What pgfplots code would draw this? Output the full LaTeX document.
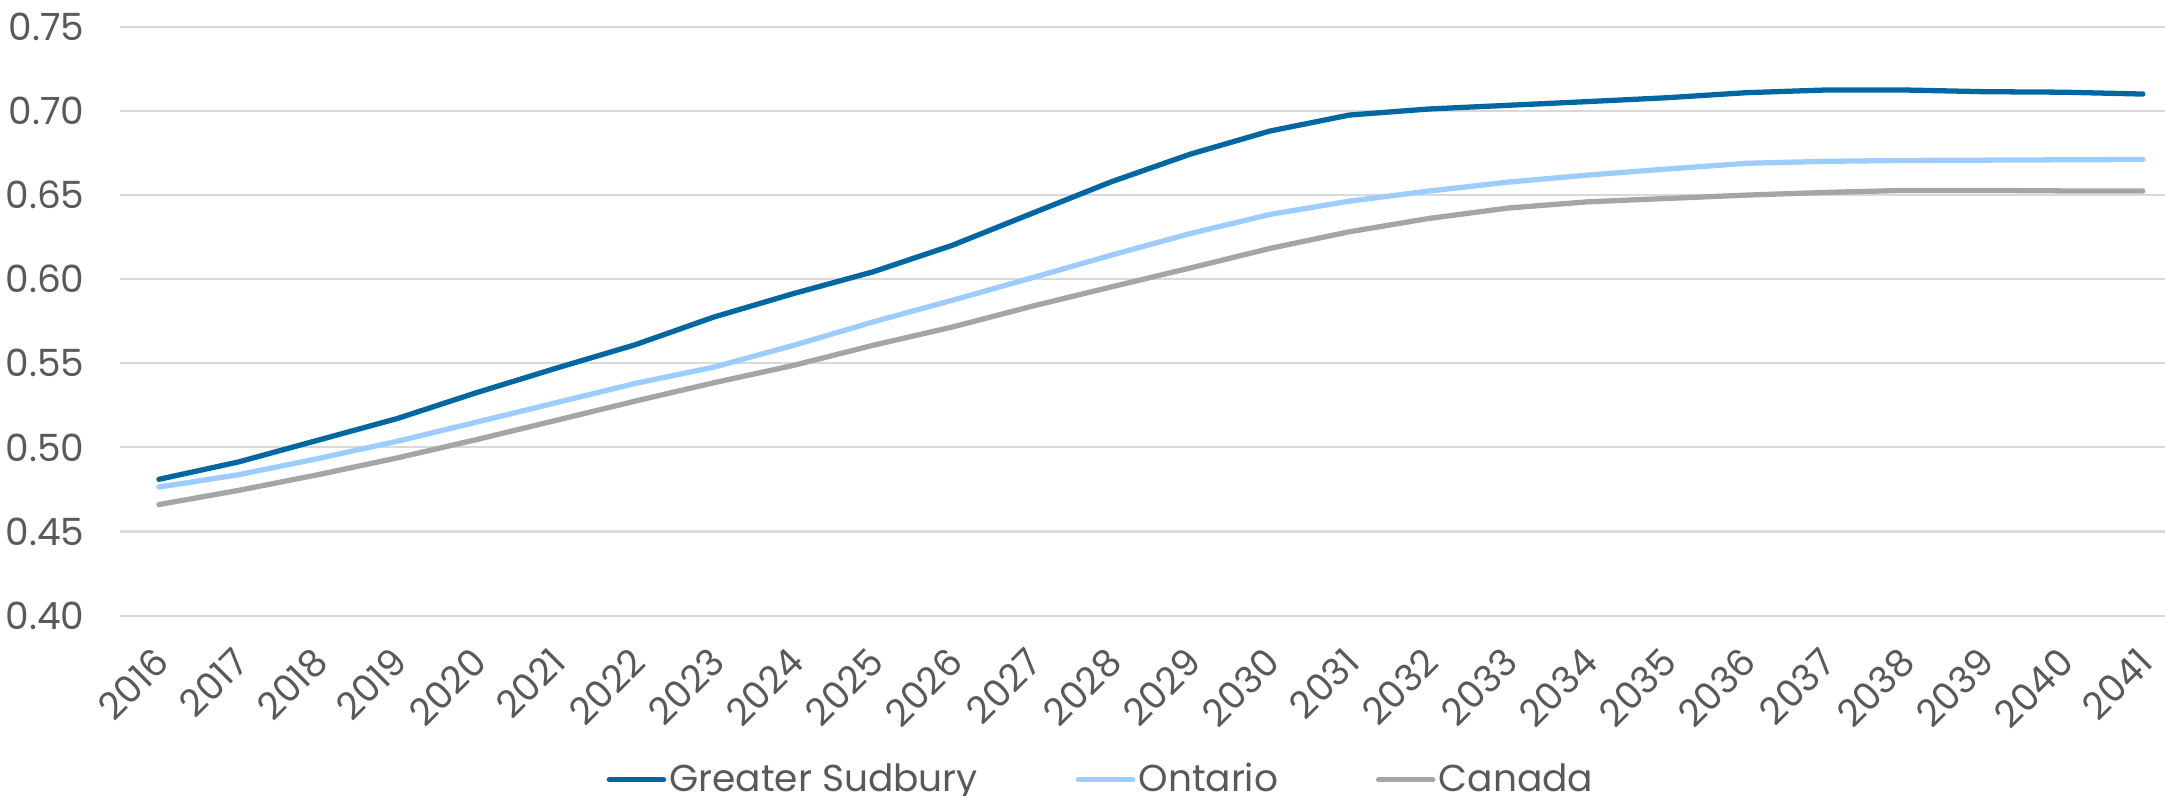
\documentclass[border=0pt]{standalone}
\usepackage{pgfplots}
\pgfplotsset{compat=1.18}
\usepackage{fontspec}
\setmainfont{Poppins}
\definecolor{sud}{RGB}{0,103,163}
\definecolor{ont}{RGB}{157,204,255}
\definecolor{can}{RGB}{165,165,165}
\definecolor{txt}{RGB}{89,89,89}
\definecolor{gridc}{RGB}{217,217,217}
\begin{document}
\begin{tikzpicture}
\useasboundingbox (-43.2pt,-64.9pt) rectangle (736.2pt,221.6pt);
\begin{axis}[
  at={(0,0)}, anchor=south west,
  scale only axis, width=736.2pt, height=211.9pt,
  xmin=2015.51, xmax=2041.28, ymin=0.4, ymax=0.75,
  xtick={2016,2017,2018,2019,2020,2021,2022,2023,2024,2025,2026,2027,2028,2029,2030,2031,2032,2033,2034,2035,2036,2037,2038,2039,2040,2041},
  ytick={0.40,0.45,0.50,0.55,0.60,0.65,0.70,0.75},
  axis line style={draw=none},
  major tick length=0pt,
  ymajorgrids,
  grid style={gridc, line width=0.75pt},
  /pgf/number format/assume math mode=true,
  tick label style={font=\fontsize{13.5}{16}\selectfont, text=txt},
  yticklabel style={anchor=east, inner sep=0pt, xshift=-12.6pt,
    /pgf/number format/fixed, /pgf/number format/fixed zerofill, /pgf/number format/precision=2},
  xticklabel style={xshift=-2.5pt, yshift=-10.5pt, rotate=45, anchor=north east, inner sep=0pt,
    /pgf/number format/1000 sep={}},
  legend style={at={(0.48,-0.279)}, anchor=center, draw=none, fill=none,
    font=\fontsize{13.5}{16}\selectfont, text=txt, inner sep=0pt,
    nodes={inner sep=1.2pt},
    /tikz/every even column/.append style={column sep=34pt}},
  legend columns=3,
  legend cell align=left,
  legend image code/.code={\draw[#1, line width=1.9pt] (0pt,0pt) -- (19.5pt,0pt);},
]
\addplot[sud, line width=1.9pt, line cap=round, line join=round] coordinates {
(2016,0.4810) (2017,0.4913) (2018,0.5042) (2019,0.5171) (2020,0.5325)
(2021,0.5470) (2022,0.5610) (2023,0.5776) (2024,0.5915) (2025,0.6044)
(2026,0.6202) (2027,0.6391) (2028,0.6579) (2029,0.6744) (2030,0.6881)
(2031,0.6976) (2032,0.7012) (2033,0.7034) (2034,0.7056) (2035,0.7079)
(2036,0.7109) (2037,0.7125) (2038,0.7125) (2039,0.7115) (2040,0.7112)
(2041,0.7101)};
\addlegendentry{Greater Sudbury}
\addplot[ont, line width=1.9pt, line cap=round, line join=round] coordinates {
(2016,0.4764) (2017,0.4837) (2018,0.4933) (2019,0.5036) (2020,0.5150)
(2021,0.5265) (2022,0.5380) (2023,0.5478) (2024,0.5607) (2025,0.5746)
(2026,0.5875) (2027,0.6008) (2028,0.6143) (2029,0.6272) (2030,0.6385)
(2031,0.6464) (2032,0.6524) (2033,0.6577) (2034,0.6619) (2035,0.6655)
(2036,0.6689) (2037,0.6701) (2038,0.6706) (2039,0.6708) (2040,0.6710)
(2041,0.6712)};
\addlegendentry{Ontario}
\addplot[can, line width=1.9pt, line cap=round, line join=round] coordinates {
(2016,0.4660) (2017,0.4744) (2018,0.4837) (2019,0.4937) (2020,0.5046)
(2021,0.5160) (2022,0.5275) (2023,0.5385) (2024,0.5488) (2025,0.5607)
(2026,0.5716) (2027,0.5839) (2028,0.5954) (2029,0.6067) (2030,0.6183)
(2031,0.6282) (2032,0.6361) (2033,0.6423) (2034,0.6460) (2035,0.6480)
(2036,0.6500) (2037,0.6516) (2038,0.6528) (2039,0.6528) (2040,0.6525)
(2041,0.6524)};
\addlegendentry{Canada}
\end{axis}
\end{tikzpicture}
\end{document}
